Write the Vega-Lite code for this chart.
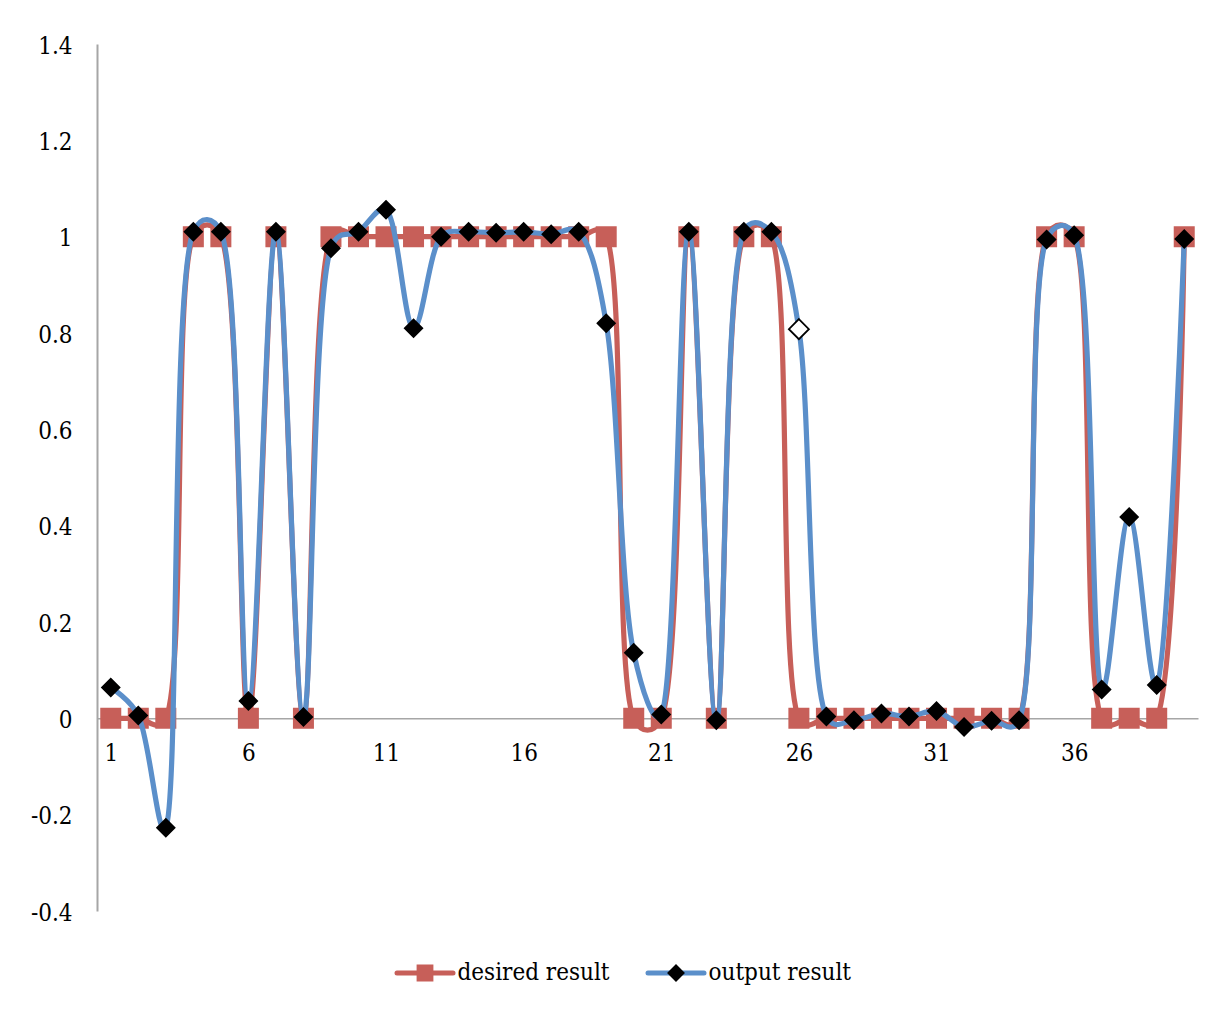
{
  "$schema": "https://vega.github.io/schema/vega-lite/v6.json",
  "width": 1101,
  "height": 867,
  "autosize": "none",
  "padding": {"left": 97, "top": 44, "right": 27, "bottom": 102},
  "background": "white",
  "config": {
    "view": {"stroke": null},
    "font": "'DejaVu Serif Condensed', 'DejaVu Serif', serif"
  },
  "data": {
    "values": [
      {"x": 1, "series": "desired result", "value": 0},
      {"x": 2, "series": "desired result", "value": 0},
      {"x": 3, "series": "desired result", "value": 0},
      {"x": 4, "series": "desired result", "value": 1},
      {"x": 5, "series": "desired result", "value": 1},
      {"x": 6, "series": "desired result", "value": 0},
      {"x": 7, "series": "desired result", "value": 1},
      {"x": 8, "series": "desired result", "value": 0},
      {"x": 9, "series": "desired result", "value": 1},
      {"x": 10, "series": "desired result", "value": 1},
      {"x": 11, "series": "desired result", "value": 1},
      {"x": 12, "series": "desired result", "value": 1},
      {"x": 13, "series": "desired result", "value": 1},
      {"x": 14, "series": "desired result", "value": 1},
      {"x": 15, "series": "desired result", "value": 1},
      {"x": 16, "series": "desired result", "value": 1},
      {"x": 17, "series": "desired result", "value": 1},
      {"x": 18, "series": "desired result", "value": 1},
      {"x": 19, "series": "desired result", "value": 1},
      {"x": 20, "series": "desired result", "value": 0},
      {"x": 21, "series": "desired result", "value": 0},
      {"x": 22, "series": "desired result", "value": 1},
      {"x": 23, "series": "desired result", "value": 0},
      {"x": 24, "series": "desired result", "value": 1},
      {"x": 25, "series": "desired result", "value": 1},
      {"x": 26, "series": "desired result", "value": 0},
      {"x": 27, "series": "desired result", "value": 0},
      {"x": 28, "series": "desired result", "value": 0},
      {"x": 29, "series": "desired result", "value": 0},
      {"x": 30, "series": "desired result", "value": 0},
      {"x": 31, "series": "desired result", "value": 0},
      {"x": 32, "series": "desired result", "value": 0},
      {"x": 33, "series": "desired result", "value": 0},
      {"x": 34, "series": "desired result", "value": 0},
      {"x": 35, "series": "desired result", "value": 1},
      {"x": 36, "series": "desired result", "value": 1},
      {"x": 37, "series": "desired result", "value": 0},
      {"x": 38, "series": "desired result", "value": 0},
      {"x": 39, "series": "desired result", "value": 0},
      {"x": 40, "series": "desired result", "value": 1},
      {"x": 1, "series": "output result", "value": 0.064},
      {"x": 2, "series": "output result", "value": 0.006},
      {"x": 3, "series": "output result", "value": -0.227},
      {"x": 4, "series": "output result", "value": 1.01},
      {"x": 5, "series": "output result", "value": 1.01},
      {"x": 6, "series": "output result", "value": 0.036},
      {"x": 7, "series": "output result", "value": 1.01},
      {"x": 8, "series": "output result", "value": 0.003},
      {"x": 9, "series": "output result", "value": 0.976},
      {"x": 10, "series": "output result", "value": 1.01},
      {"x": 11, "series": "output result", "value": 1.056},
      {"x": 12, "series": "output result", "value": 0.81},
      {"x": 13, "series": "output result", "value": 1.0},
      {"x": 14, "series": "output result", "value": 1.01},
      {"x": 15, "series": "output result", "value": 1.008},
      {"x": 16, "series": "output result", "value": 1.01},
      {"x": 17, "series": "output result", "value": 1.005},
      {"x": 18, "series": "output result", "value": 1.01},
      {"x": 19, "series": "output result", "value": 0.82},
      {"x": 20, "series": "output result", "value": 0.136},
      {"x": 21, "series": "output result", "value": 0.008},
      {"x": 22, "series": "output result", "value": 1.01},
      {"x": 23, "series": "output result", "value": -0.004},
      {"x": 24, "series": "output result", "value": 1.01},
      {"x": 25, "series": "output result", "value": 1.01},
      {"x": 26, "series": "output result", "value": 0.808},
      {"x": 27, "series": "output result", "value": 0.004},
      {"x": 28, "series": "output result", "value": -0.004},
      {"x": 29, "series": "output result", "value": 0.01},
      {"x": 30, "series": "output result", "value": 0.004},
      {"x": 31, "series": "output result", "value": 0.015},
      {"x": 32, "series": "output result", "value": -0.018},
      {"x": 33, "series": "output result", "value": -0.005},
      {"x": 34, "series": "output result", "value": -0.004},
      {"x": 35, "series": "output result", "value": 0.994},
      {"x": 36, "series": "output result", "value": 1.003},
      {"x": 37, "series": "output result", "value": 0.06},
      {"x": 38, "series": "output result", "value": 0.418},
      {"x": 39, "series": "output result", "value": 0.069},
      {"x": 40, "series": "output result", "value": 0.995}
    ]
  },
  "encoding": {
    "x": {
      "field": "x",
      "type": "quantitative",
      "scale": {"domain": [0.5, 40.5], "nice": false, "zero": false},
      "axis": {
        "values": [1, 6, 11, 16, 21, 26, 31, 36],
        "title": null,
        "grid": false,
        "ticks": false,
        "tickSize": 0,
        "domainColor": "#A6A6A6",
        "domainWidth": 1.5,
        "labelFontSize": 24,
        "labelColor": "black",
        "labelPadding": 23,
        "labelFlush": false,
        "labelOverlap": false,
        "offset": -192.67
      }
    },
    "y": {
      "field": "value",
      "type": "quantitative",
      "scale": {"domain": [-0.4, 1.4], "nice": false, "zero": false},
      "axis": {
        "values": [-0.4, -0.2, 0, 0.2, 0.4, 0.6, 0.8, 1, 1.2, 1.4],
        "title": null,
        "grid": false,
        "ticks": false,
        "tickSize": 0,
        "domainColor": "#A6A6A6",
        "domainWidth": 2,
        "labelFontSize": 24,
        "labelColor": "black",
        "labelPadding": 25,
        "labelOffset": 2,
        "labelFlush": false,
        "labelOverlap": false,
        "labelExpr": "datum.value < 0 ? '-' + format(-datum.value, '~g') : format(datum.value, '~g')"
      }
    }
  },
  "layer": [
    {
      "transform": [{"filter": "datum.series === 'desired result'"}],
      "mark": {"type": "line", "interpolate": "catmull-rom", "tension": 0.35, "strokeWidth": 5.2, "strokeCap": "round", "strokeJoin": "round"},
      "encoding": {
        "color": {
          "field": "series",
          "type": "nominal",
          "scale": {"range": ["#C75F59"]},
          "legend": {
            "orient": "none", "legendX": 297.5, "legendY": 898.5,
            "title": null, "padding": 0, "columns": 1,
            "symbolType": "stroke", "symbolSize": 3136, "symbolStrokeWidth": 5,
            "labelFontSize": 24, "labelColor": "black", "labelOffset": 2, "labelLimit": 0,
            "encode": {"symbols": {"update": {"size": {"value": 3136}, "strokeWidth": {"value": 5}, "strokeCap": {"value": "round"}}}}
          }
        }
      }
    },
    {
      "transform": [{"filter": "datum.series === 'desired result'"}],
      "mark": {"type": "point", "filled": true, "opacity": 1, "size": 4900},
      "encoding": {
        "fill": {
          "field": "series",
          "type": "nominal",
          "scale": {"range": ["#C75F59"]},
          "legend": {
            "orient": "none", "legendX": 297.5, "legendY": 898.5,
            "title": null, "padding": 0, "columns": 1,
            "symbolSize": 3136, "symbolStrokeWidth": 5,
            "labelFontSize": 24, "labelExpr": "''", "labelOffset": 2, "labelLimit": 0,
            "encode": {"symbols": {"update": {"size": {"value": 3136}, "strokeWidth": {"value": 5}, "stroke": {"value": "transparent"}}}}
          }
        },
        "shape": {
          "field": "series",
          "type": "nominal",
          "scale": {"range": ["M-1,0H1M-0.3,-0.3H0.3V0.3H-0.3Z"]},
          "legend": {
            "orient": "none", "legendX": 297.5, "legendY": 898.5,
            "title": null, "padding": 0, "columns": 1,
            "symbolSize": 3136, "symbolStrokeWidth": 5,
            "labelFontSize": 24, "labelExpr": "''", "labelOffset": 2, "labelLimit": 0,
            "encode": {"symbols": {"update": {"size": {"value": 3136}, "strokeWidth": {"value": 5}, "stroke": {"value": "transparent"}}}}
          }
        }
      }
    },
    {
      "transform": [{"filter": "datum.series === 'output result'"}],
      "mark": {"type": "line", "interpolate": "catmull-rom", "tension": 0.35, "strokeWidth": 5.2, "strokeCap": "round", "strokeJoin": "round"},
      "encoding": {
        "color": {
          "field": "series",
          "type": "nominal",
          "scale": {"range": ["#5B8FCA"]},
          "legend": {
            "orient": "none", "legendX": 548.5, "legendY": 898.5,
            "title": null, "padding": 0, "columns": 1,
            "symbolType": "stroke", "symbolSize": 3136, "symbolStrokeWidth": 5,
            "labelFontSize": 24, "labelColor": "black", "labelOffset": 2, "labelLimit": 0,
            "encode": {"symbols": {"update": {"size": {"value": 3136}, "strokeWidth": {"value": 5}, "strokeCap": {"value": "round"}}}}
          }
        }
      }
    },
    {
      "transform": [{"filter": "datum.series === 'output result' && datum.x !== 26"}],
      "mark": {"type": "point", "filled": true, "opacity": 1, "size": 3906},
      "encoding": {
        "fill": {
          "field": "series",
          "type": "nominal",
          "scale": {"range": ["black"]},
          "legend": {
            "orient": "none", "legendX": 548.5, "legendY": 898.5,
            "title": null, "padding": 0, "columns": 1,
            "symbolSize": 3136, "symbolStrokeWidth": 5,
            "labelFontSize": 24, "labelExpr": "''", "labelOffset": 2, "labelLimit": 0,
            "encode": {"symbols": {"update": {"size": {"value": 3136}, "strokeWidth": {"value": 5}, "stroke": {"value": "transparent"}}}}
          }
        },
        "shape": {
          "field": "series",
          "type": "nominal",
          "scale": {"range": ["M-1,0H1M0,-0.32L0.32,0L0,0.32L-0.32,0Z"]},
          "legend": {
            "orient": "none", "legendX": 548.5, "legendY": 898.5,
            "title": null, "padding": 0, "columns": 1,
            "symbolSize": 3136, "symbolStrokeWidth": 5,
            "labelFontSize": 24, "labelExpr": "''", "labelOffset": 2, "labelLimit": 0,
            "encode": {"symbols": {"update": {"size": {"value": 3136}, "strokeWidth": {"value": 5}, "stroke": {"value": "transparent"}}}}
          }
        }
      }
    },
    {
      "transform": [{"filter": "datum.series === 'output result' && datum.x === 26"}],
      "mark": {"type": "point", "filled": true, "opacity": 1, "size": 3906, "shape": "M0,-0.32L0.32,0L0,0.32L-0.32,0Z", "fill": "white", "stroke": "black", "strokeWidth": 1.8}
    }
  ],
  "resolve": {
    "scale": {"color": "independent", "fill": "independent", "shape": "independent"},
    "legend": {"color": "independent", "fill": "independent", "shape": "independent"}
  }
}
